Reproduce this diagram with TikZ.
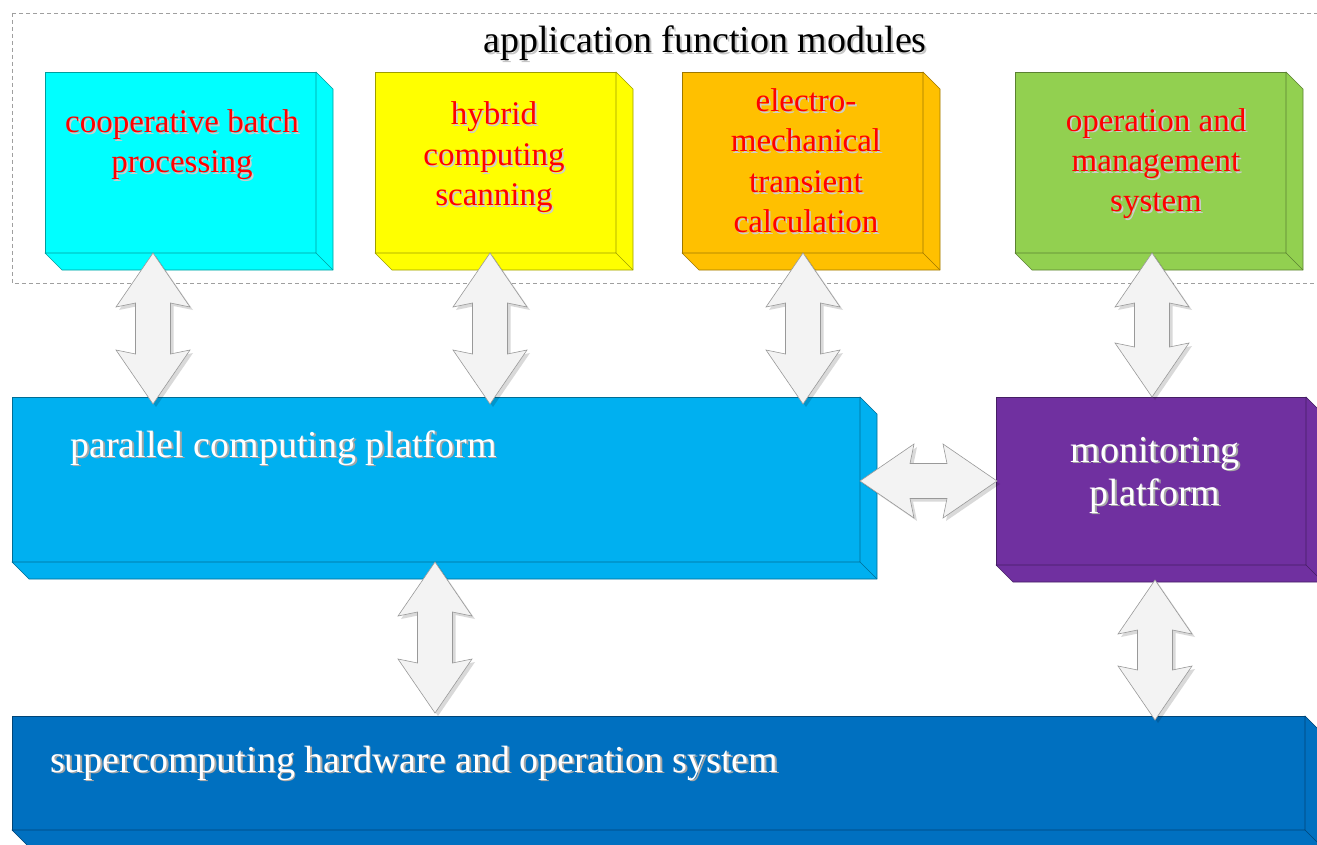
\documentclass[tikz,border=0pt]{standalone}
\usepackage{fontspec}
\setmainfont{Liberation Serif}
\usetikzlibrary{calc}
\definecolor{cyanc}{HTML}{00FFFF}
\definecolor{yellowc}{HTML}{FFFF00}
\definecolor{orangec}{HTML}{FFC000}
\definecolor{greenc}{HTML}{92D050}
\definecolor{parc}{HTML}{00B0F0}
\definecolor{purplec}{HTML}{7030A0}
\definecolor{superc}{HTML}{0070C0}
\definecolor{arrfill}{HTML}{F3F3F3}
\definecolor{redtxt}{HTML}{FF0000}
\newcommand\shd[2]{\makebox[0pt][l]{\kern1.8pt\raisebox{-1.8pt}{\textcolor{#1}{#2}}}#2}
\newcommand\extrude[2]{%
  \filldraw[fill=#2, draw=#2!62!black, line width=0.6pt, line join=round]
    (#1.north east) -- ($(#1.north east)+(17pt,-17pt)$) -- ($(#1.south east)+(17pt,-17pt)$)
    -- ($(#1.south west)+(17pt,-17pt)$) -- (#1.south west) -- (#1.south east) -- cycle;
  \draw[draw=#2!62!black, line width=0.6pt] (#1.south east) -- ($(#1.south east)+(17pt,-17pt)$);}
\newcommand\varrowpath[4]{%
  \path[#1] let \p1=($(#2)+(#4)$), \p2=($(#3)+(#4)$) in
    (\x1,\y1) -- (\x1-37pt,\y1-54pt) -- (\x1-17.5pt,\y1-50pt) -- (\x1-17.5pt,\y2+50pt)
    -- (\x1-37pt,\y2+54pt) -- (\x1,\y2) -- (\x1+37pt,\y2+54pt) -- (\x1+17.5pt,\y2+50pt)
    -- (\x1+17.5pt,\y1-50pt) -- (\x1+37pt,\y1-54pt) -- cycle;}
\newcommand\varrow[2]{%
  \varrowpath{fill=black, opacity=0.15}{#1}{#2}{3pt,-3pt}%
  \varrowpath{fill=arrfill, draw=gray!80, line width=0.6pt}{#1}{#2}{0pt,0pt}}
\newcommand\harrowpath[4]{%
  \path[#1] let \p1=($(#2)+(#4)$), \p2=($(#3)+(#4)$) in
    (\x1,\y1) -- (\x1+54pt,\y1+37pt) -- (\x1+50pt,\y1+17.5pt) -- (\x2-50pt,\y1+17.5pt)
    -- (\x2-54pt,\y1+37pt) -- (\x2,\y1) -- (\x2-54pt,\y1-37pt) -- (\x2-50pt,\y1-17.5pt)
    -- (\x1+50pt,\y1-17.5pt) -- (\x1+54pt,\y1-37pt) -- cycle;}
\newcommand\harrow[2]{%
  \harrowpath{fill=black, opacity=0.15}{#1}{#2}{3pt,-3pt}%
  \harrowpath{fill=arrfill, draw=gray!80, line width=0.6pt}{#1}{#2}{0pt,0pt}}
\tikzset{
  box/.style={draw=#1!62!black, fill=#1, line width=0.6pt, inner sep=0pt, outer sep=0pt, anchor=north west},
  redlbl/.style={inner sep=0pt, align=center, anchor=base, text=redtxt, font=\fontsize{33}{40.5}\selectfont},
  whitelbl/.style={inner sep=0pt, align=center, text=white, font=\fontsize{38}{43}\selectfont},
}
\begin{document}
\begin{tikzpicture}[x=1pt, y=-1pt]
\useasboundingbox (0,0) rectangle (1317,845);
\fill[white] (0,0) rectangle (1317,845);
% dashed frame
\draw[dashed, gray!75, line width=0.6pt, dash pattern=on 4pt off 3pt] (12,13) rectangle (1340,283);
\node[inner sep=0pt, anchor=base, font=\fontsize{38}{40}\selectfont] (title) at (705,53) {\shd{gray!45}{application function modules}};
% application boxes
\node[box=cyanc, minimum width=271pt, minimum height=181pt] (cyan) at (45,72) {};
\extrude{cyan}{cyanc}
\node[box=yellowc, minimum width=241pt, minimum height=181pt] (yellow) at (375,72) {};
\extrude{yellow}{yellowc}
\node[box=orangec, minimum width=241pt, minimum height=181pt] (orange) at (682,72) {};
\extrude{orange}{orangec}
\node[box=greenc, minimum width=271pt, minimum height=181pt] (green) at (1015,72) {};
\extrude{green}{greenc}
\node[redlbl] (l1) at (182,173) {\shd{gray!40}{cooperative batch}\\\shd{gray!40}{processing}};
\node[redlbl] (l2) at (494,206) {\shd{gray!40}{hybrid}\\\shd{gray!40}{computing}\\\shd{gray!40}{scanning}};
\node[redlbl] (l3) at (806,233) {\shd{gray!40}{electro-}\\\shd{gray!40}{mechanical}\\\shd{gray!40}{transient}\\\shd{gray!40}{calculation}};
\node[redlbl] (l4) at (1156,212) {\shd{gray!40}{operation and}\\\shd{gray!40}{management}\\\shd{gray!40}{system}};
% platforms
\node[box=parc, minimum width=848pt, minimum height=165pt] (par) at (12,397) {};
\extrude{par}{parc}
\node[box=purplec, minimum width=310pt, minimum height=168pt] (mon) at (996,397) {};
\extrude{mon}{purplec}
\node[box=superc, minimum width=1293pt, minimum height=114pt] (sup) at (12,716) {};
\extrude{sup}{superc}
\node[whitelbl, anchor=base west] (lp) at (70,457) {\shd{gray!70}{parallel computing platform}};
\node[whitelbl, anchor=base] (lm) at (1155,505) {\shd{gray!70}{monitoring}\\\shd{gray!70}{platform}};
\node[whitelbl, anchor=base west] (ls) at (50,772) {\shd{gray!70}{supercomputing hardware and operation system}};
% arrow columns
\coordinate (c1) at (153,0);
\coordinate (c2) at (490,0);
\coordinate (c3) at (803,0);
\coordinate (c4) at (1152,0);
\coordinate (c5) at (435,0);
\coordinate (c6) at (1155,0);
\coordinate (a1t) at (cyan.south -| c1);
\coordinate (a1b) at ($(par.north -| c1)+(0,7)$);
\coordinate (a2t) at (yellow.south -| c2);
\coordinate (a2b) at ($(par.north -| c2)+(0,7)$);
\coordinate (a3t) at (orange.south -| c3);
\coordinate (a3b) at ($(par.north -| c3)+(0,7)$);
\coordinate (a4t) at (green.south -| c4);
\coordinate (a4b) at (mon.north -| c4);
\coordinate (a5t) at (par.south -| c5);
\coordinate (a5b) at ($(sup.north -| c5)+(0,-3)$);
\coordinate (a6t) at ($(mon.south -| c6)+(0,15)$);
\coordinate (a6b) at ($(sup.north -| c6)+(0,4)$);
\coordinate (h1) at ($(par.east)+(0,1.5)$);
\coordinate (h2) at ($(mon.west)+(1,0)$);
\varrow{a1t}{a1b}
\varrow{a2t}{a2b}
\varrow{a3t}{a3b}
\varrow{a4t}{a4b}
\varrow{a5t}{a5b}
\varrow{a6t}{a6b}
\harrow{h1}{h2}
\end{tikzpicture}
\end{document}
